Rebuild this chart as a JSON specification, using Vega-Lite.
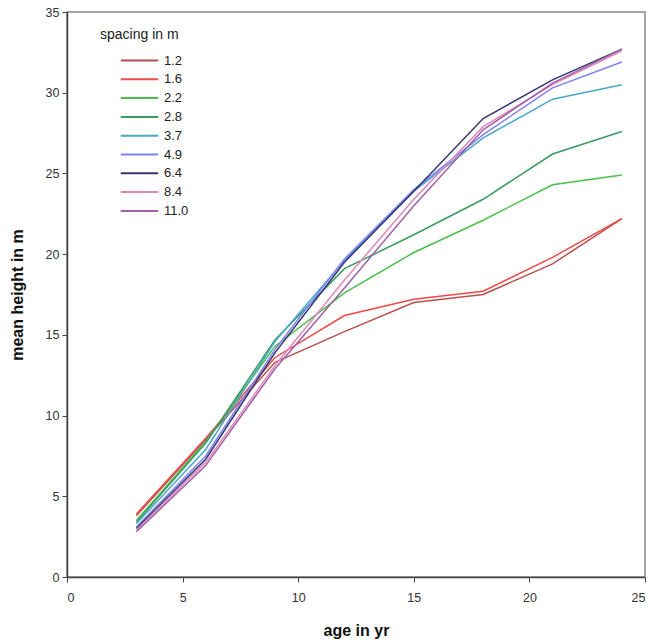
{
  "$schema": "https://vega.github.io/schema/vega-lite/v6.json",
  "autosize": {"type": "none"},
  "width": 578,
  "height": 565,
  "padding": {"left": 67, "top": 12, "right": 6, "bottom": 63},
  "background": "white",
  "config": {
    "view": {"stroke": "#888888", "strokeWidth": 1.5},
    "font": "Liberation Sans",
    "axis": {
      "grid": false,
      "domainColor": "#444444",
      "domainWidth": 1.5,
      "tickColor": "#444444",
      "tickSize": 5,
      "labelFont": "Liberation Sans",
      "labelFontSize": 12.5,
      "labelColor": "#333333",
      "titleFont": "Liberation Sans",
      "titleFontSize": 16,
      "titleFontWeight": "bold",
      "titleColor": "#111111"
    }
  },
  "data": {
    "values": [
      {"spacing": "1.2", "age": 3, "height": 3.8}, {"spacing": "1.2", "age": 6, "height": 8.5}, {"spacing": "1.2", "age": 9, "height": 13.3}, {"spacing": "1.2", "age": 12, "height": 15.2}, {"spacing": "1.2", "age": 15, "height": 17.0}, {"spacing": "1.2", "age": 18, "height": 17.5}, {"spacing": "1.2", "age": 21, "height": 19.4}, {"spacing": "1.2", "age": 24, "height": 22.2},
      {"spacing": "1.6", "age": 3, "height": 3.9}, {"spacing": "1.6", "age": 6, "height": 8.6}, {"spacing": "1.6", "age": 9, "height": 13.6}, {"spacing": "1.6", "age": 12, "height": 16.2}, {"spacing": "1.6", "age": 15, "height": 17.2}, {"spacing": "1.6", "age": 18, "height": 17.7}, {"spacing": "1.6", "age": 21, "height": 19.8}, {"spacing": "1.6", "age": 24, "height": 22.2},
      {"spacing": "2.2", "age": 3, "height": 3.5}, {"spacing": "2.2", "age": 6, "height": 8.4}, {"spacing": "2.2", "age": 9, "height": 14.3}, {"spacing": "2.2", "age": 12, "height": 17.6}, {"spacing": "2.2", "age": 15, "height": 20.1}, {"spacing": "2.2", "age": 18, "height": 22.1}, {"spacing": "2.2", "age": 21, "height": 24.3}, {"spacing": "2.2", "age": 24, "height": 24.9},
      {"spacing": "2.8", "age": 3, "height": 3.4}, {"spacing": "2.8", "age": 6, "height": 8.3}, {"spacing": "2.8", "age": 9, "height": 14.7}, {"spacing": "2.8", "age": 12, "height": 19.1}, {"spacing": "2.8", "age": 15, "height": 21.2}, {"spacing": "2.8", "age": 18, "height": 23.4}, {"spacing": "2.8", "age": 21, "height": 26.2}, {"spacing": "2.8", "age": 24, "height": 27.6},
      {"spacing": "3.7", "age": 3, "height": 3.3}, {"spacing": "3.7", "age": 6, "height": 7.9}, {"spacing": "3.7", "age": 9, "height": 14.6}, {"spacing": "3.7", "age": 12, "height": 19.6}, {"spacing": "3.7", "age": 15, "height": 23.9}, {"spacing": "3.7", "age": 18, "height": 27.2}, {"spacing": "3.7", "age": 21, "height": 29.6}, {"spacing": "3.7", "age": 24, "height": 30.5},
      {"spacing": "4.9", "age": 3, "height": 3.1}, {"spacing": "4.9", "age": 6, "height": 7.5}, {"spacing": "4.9", "age": 9, "height": 14.1}, {"spacing": "4.9", "age": 12, "height": 19.7}, {"spacing": "4.9", "age": 15, "height": 24.0}, {"spacing": "4.9", "age": 18, "height": 27.4}, {"spacing": "4.9", "age": 21, "height": 30.3}, {"spacing": "4.9", "age": 24, "height": 31.9},
      {"spacing": "6.4", "age": 3, "height": 3.0}, {"spacing": "6.4", "age": 6, "height": 7.3}, {"spacing": "6.4", "age": 9, "height": 13.9}, {"spacing": "6.4", "age": 12, "height": 19.5}, {"spacing": "6.4", "age": 15, "height": 23.9}, {"spacing": "6.4", "age": 18, "height": 28.4}, {"spacing": "6.4", "age": 21, "height": 30.8}, {"spacing": "6.4", "age": 24, "height": 32.7},
      {"spacing": "8.4", "age": 3, "height": 2.9}, {"spacing": "8.4", "age": 6, "height": 7.1}, {"spacing": "8.4", "age": 9, "height": 13.1}, {"spacing": "8.4", "age": 12, "height": 18.4}, {"spacing": "8.4", "age": 15, "height": 23.4}, {"spacing": "8.4", "age": 18, "height": 27.9}, {"spacing": "8.4", "age": 21, "height": 30.5}, {"spacing": "8.4", "age": 24, "height": 32.6},
      {"spacing": "11.0", "age": 3, "height": 2.8}, {"spacing": "11.0", "age": 6, "height": 6.9}, {"spacing": "11.0", "age": 9, "height": 12.9}, {"spacing": "11.0", "age": 12, "height": 17.9}, {"spacing": "11.0", "age": 15, "height": 23.0}, {"spacing": "11.0", "age": 18, "height": 27.7}, {"spacing": "11.0", "age": 21, "height": 30.6}, {"spacing": "11.0", "age": 24, "height": 32.7}
    ]
  },
  "mark": {"type": "line", "strokeWidth": 1.5},
  "encoding": {
    "x": {
      "field": "age", "type": "quantitative",
      "scale": {"domain": [0, 25], "nice": false},
      "axis": {"title": "age in yr", "values": [0, 5, 10, 15, 20, 25], "titlePadding": 19, "labelPadding": 9}
    },
    "y": {
      "field": "height", "type": "quantitative",
      "scale": {"domain": [0, 35], "nice": false},
      "axis": {"title": "mean height in m", "values": [0, 5, 10, 15, 20, 25, 30, 35], "titlePadding": 20, "labelPadding": 3}
    },
    "color": {
      "field": "spacing", "type": "nominal",
      "scale": {
        "domain": ["1.2", "1.6", "2.2", "2.8", "3.7", "4.9", "6.4", "8.4", "11.0"],
        "range": ["#b85050", "#f04848", "#48c048", "#3a9a60", "#48a8c8", "#8080f8", "#343470", "#e088b8", "#a060a8"]
      },
      "legend": {
        "title": "spacing in m",
        "orient": "none",
        "legendX": 33,
        "legendY": 16,
        "padding": 0,
        "titleFont": "Liberation Sans",
        "titleFontSize": 14,
        "titleFontWeight": "normal",
        "titleColor": "#222222",
        "titlePadding": 10,
        "labelFont": "Liberation Sans",
        "labelFontSize": 13,
        "labelColor": "#222222",
        "symbolType": "M-2.5,0H2.5",
        "symbolSize": 225,
        "symbolStrokeWidth": 2,
        "symbolOffset": 31,
        "labelOffset": 16,
        "rowPadding": 2.8
      }
    }
  }
}
